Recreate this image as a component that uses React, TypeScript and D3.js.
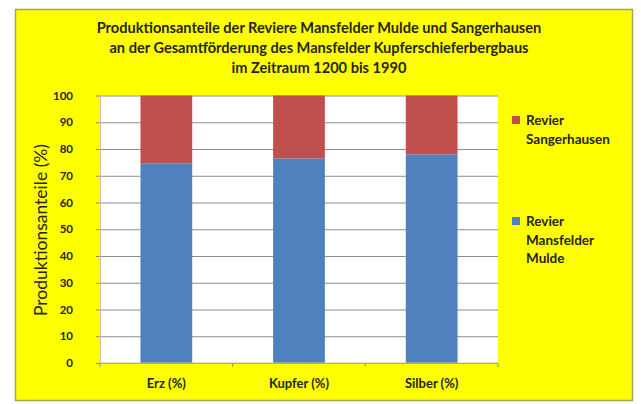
import { useEffect, useRef } from 'react'
import * as d3 from 'd3'

const categories = ['Erz (%)', 'Kupfer (%)', 'Silber (%)']
const mansfelderMulde = [74.5, 76.5, 78]
const sangerhausen = [25.5, 23.5, 22]
const yTicks = [0, 10, 20, 30, 40, 50, 60, 70, 80, 90, 100]
const titleLines = [
  'Produktionsanteile der Reviere Mansfelder Mulde und Sangerhausen',
  'an der Gesamtförderung des Mansfelder Kupferschieferbergbaus',
  'im Zeitraum 1200 bis 1990'
]
const legendItems = [
  { lines: ['Revier', 'Sangerhausen'], color: '#C0504D' },
  { lines: ['Revier', 'Mansfelder', 'Mulde'], color: '#4F81BD' }
]

const W = 641
const H = 404
const FONT = 'Lato, "Open Sans", sans-serif'
const TEXT = '#26261a'

export default function App() {
  const svgRef = useRef<SVGSVGElement>(null)

  useEffect(() => {
    document.body.style.margin = '0'
    if (!svgRef.current) return
    const svg = d3.select(svgRef.current)
    svg.selectAll('*').remove()

    svg.append('rect').attr('width', W).attr('height', H).attr('fill', '#ffffff')
    svg.append('rect')
      .attr('x', 15.5).attr('y', 9.5).attr('width', 617).attr('height', 391)
      .attr('fill', '#FFFF00').attr('stroke', '#a8a25a').attr('stroke-width', 1.5)

    // title
    svg.append('text')
      .attr('x', 319).attr('y', 33)
      .attr('text-anchor', 'middle')
      .style('font-family', FONT).style('font-weight', 700).style('font-size', '14.6px')
      .attr('fill', TEXT)
      .selectAll('tspan')
      .data(titleLines)
      .enter().append('tspan')
      .attr('x', 319)
      .attr('dy', (_, i) => (i === 0 ? 0 : 20))
      .text(d => d)

    const margin = { left: 100, right: 143, top: 95.5, bottom: 41 }
    const innerWidth = W - margin.left - margin.right
    const innerHeight = H - margin.top - margin.bottom

    const x = d3.scaleBand().domain(categories).range([0, innerWidth]).paddingInner(0.61).paddingOuter(0.305)
    const y = d3.scaleLinear().domain([0, 100]).range([innerHeight, 0])

    const g = svg.append('g').attr('transform', `translate(${margin.left},${margin.top})`)

    g.append('rect').attr('width', innerWidth).attr('height', innerHeight).attr('fill', '#ffffff')

    // grid
    g.append('g')
      .call(d3.axisLeft(y).tickValues(yTicks).tickSize(-innerWidth).tickFormat(() => ''))
      .call(s => s.select('.domain').remove())
      .call(s => s.selectAll('line').attr('stroke', '#8c8c8c').attr('stroke-width', 1))

    // y axis
    const yAxis = g.append('g')
      .call(d3.axisLeft(y).tickValues(yTicks).tickSize(4).tickPadding(23).tickFormat(d3.format('d')))
    yAxis.select('.domain').attr('stroke', '#c8c8a0')
    yAxis.selectAll('line').attr('stroke', '#8c8c8c')
    yAxis.selectAll('text')
      .style('font-family', FONT).style('font-weight', 700).style('font-size', '11.5px')
      .attr('fill', TEXT)

    // bars
    const stack = categories.map((c, i) => ({ c, a: mansfelderMulde[i], b: sangerhausen[i] }))
    g.selectAll('.bar-a').data(stack).enter().append('rect')
      .attr('x', d => x(d.c)!).attr('width', x.bandwidth())
      .attr('y', d => y(d.a)).attr('height', d => innerHeight - y(d.a))
      .attr('fill', '#4F81BD')
    g.selectAll('.bar-b').data(stack).enter().append('rect')
      .attr('x', d => x(d.c)!).attr('width', x.bandwidth())
      .attr('y', d => y(d.a + d.b)).attr('height', d => y(d.a) - y(d.a + d.b))
      .attr('fill', '#C0504D')

    // x axis
    const step = x.step()
    const xAxis = g.append('g').attr('transform', `translate(0,${innerHeight})`)
    xAxis.append('line').attr('x1', 0).attr('x2', innerWidth).attr('stroke', '#c8c8a0')
    xAxis.selectAll('.tk').data(d3.range(categories.length + 1)).enter().append('line')
      .attr('x1', i => i * step).attr('x2', i => i * step).attr('y1', 0).attr('y2', 4)
      .attr('stroke', '#9a9a70')
    xAxis.selectAll('.lbl').data(categories).enter().append('text')
      .attr('x', d => x(d)! + x.bandwidth() / 2).attr('y', 25)
      .attr('text-anchor', 'middle')
      .style('font-family', FONT).style('font-weight', 700).style('font-size', '13px')
      .attr('fill', TEXT)
      .text(d => d)

    // y title
    svg.append('text')
      .attr('transform', 'translate(47,230) rotate(-90)')
      .attr('text-anchor', 'middle')
      .style('font-family', FONT).style('font-size', '17.5px')
      .attr('fill', TEXT)
      .text('Produktionsanteile (%)')

    // legend
    const legendY = [120, 221]
    legendItems.forEach((item, k) => {
      const lg = svg.append('g').attr('transform', `translate(512,${legendY[k]})`)
      lg.append('rect').attr('x', 0).attr('y', -4).attr('width', 8).attr('height', 8).attr('fill', item.color)
      lg.append('text')
        .style('font-family', FONT).style('font-weight', 700).style('font-size', '13.5px')
        .attr('fill', TEXT)
        .selectAll('tspan').data(item.lines).enter().append('tspan')
        .attr('x', 14).attr('y', (_, i) => 5 + i * 18.5)
        .text(d => d)
    })
  }, [])

  return <svg ref={svgRef} width={W} height={H} style={{ display: 'block' }} />
}
